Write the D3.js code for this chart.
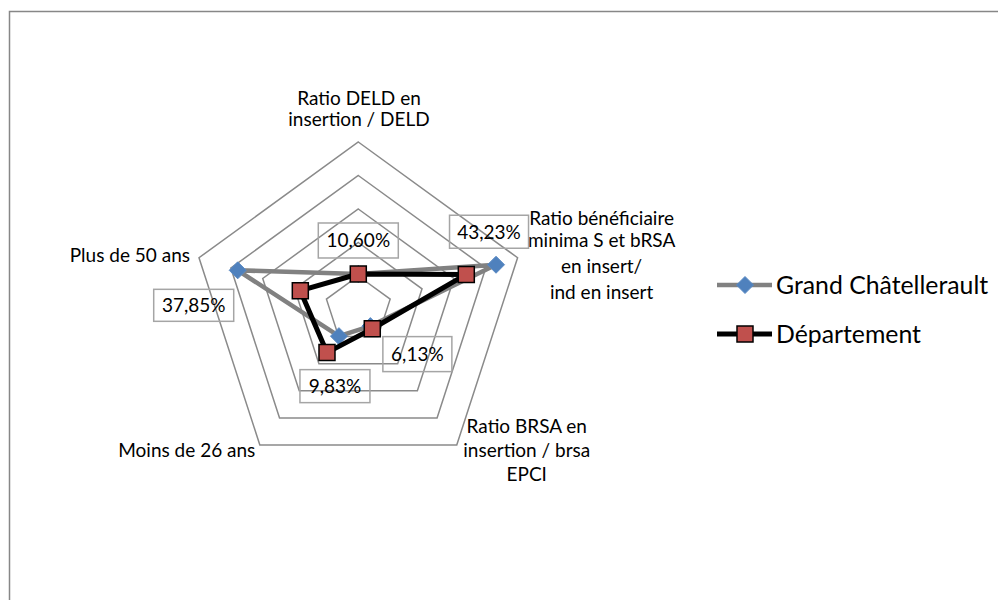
<!DOCTYPE html>
<html>
<head>
<meta charset="utf-8">
<script src="https://cdn.jsdelivr.net/npm/d3@7"></script>
<style>
  body { margin: 0; background: #fff; }
  text { font-family: Lato, "Open Sans", sans-serif; fill: #000; }
</style>
</head>
<body>
<div id="chart"></div>
<script>
var categories = [
  ["Ratio DELD en", "insertion / DELD"],
  ["Ratio bénéficiaire", "minima S et bRSA", "en insert/", "ind en insert"],
  ["Ratio BRSA en", "insertion / brsa", "EPCI"],
  ["Moins de 26 ans"],
  ["Plus de 50 ans"]
];
var seriesNames = ["Grand Châtellerault", "Département"];
var grandChatellerault = [10.60, 43.23, 6.13, 9.83, 37.85];
var departement = [10.6, 33.9, 7.1, 15.9, 18.2];
var dataLabels = ["10,60%", "43,23%", "6,13%", "9,83%", "37,85%"];
var ringValues = [10, 20, 30, 40, 50];

var svgWidth = 998;
var svgHeight = 600;
var cx = 358.3, cy = 309.5, radius = 167.5;

var svg = d3.select("#chart")
  .append("svg")
  .attr("width", svgWidth)
  .attr("height", svgHeight);

// chart area frame, runs off the right and bottom edges
svg.append("rect")
  .attr("x", 9.5).attr("y", 11.5)
  .attr("width", 1000).attr("height", 600)
  .attr("fill", "none")
  .attr("stroke", "#878787")
  .attr("stroke-width", 1.5);

var rScale = d3.scaleLinear().domain([0, 50]).range([0, radius]);
var angle = d3.scaleLinear().domain([0, categories.length]).range([-Math.PI / 2, 1.5 * Math.PI]);

function point(i, v) {
  var a = angle(i), r = rScale(v);
  return [cx + r * Math.cos(a), cy + r * Math.sin(a)];
}

var chartGroup = svg.append("g");

// rings
chartGroup.selectAll(".ring")
  .data(ringValues)
  .enter()
  .append("polygon")
  .attr("class", "ring")
  .attr("points", function(v) {
    return categories.map(function(c, i) { return point(i, v).join(","); }).join(" ");
  })
  .attr("fill", "none")
  .attr("stroke", "#8a8a8a")
  .attr("stroke-width", 1.5);

// category labels: [dx, dy of first baseline from outer vertex, anchor, line heights]
var catLayout = [
  {dx: 0.7, dy: -37, anchor: "middle", lh: [0, 21]},
  {dx: 84, dy: -33, anchor: "middle", lh: [0, 22, 26, 26]},
  {dx: 70, dy: -12, anchor: "middle", lh: [0, 24, 24]},
  {dx: -4.5, dy: 12, anchor: "end", lh: [0]},
  {dx: -9, dy: 4.5, anchor: "end", lh: [0]}
];

categories.forEach(function(lines, i) {
  var p = point(i, 50), L = catLayout[i];
  var t = chartGroup.append("text")
    .attr("text-anchor", L.anchor)
    .style("font-size", "19px");
  var y = p[1] + L.dy;
  lines.forEach(function(s, k) {
    y += L.lh[k];
    t.append("tspan").attr("x", p[0] + L.dx).attr("y", y).text(s);
  });
});

// data label boxes, offsets from the Grand Châtellerault point
var labelLayout = [
  {dx: 0, dy: -33.5, w: 80, h: 35},
  {dx: -7, dy: -33, w: 79, h: 33},
  {dx: 47, dy: 28, w: 69, h: 35},
  {dx: -4, dy: 50, w: 70, h: 33},
  {dx: -44, dy: 35, w: 80, h: 32}
];

grandChatellerault.forEach(function(v, i) {
  var p = point(i, v), L = labelLayout[i];
  var bx = p[0] + L.dx, by = p[1] + L.dy;
  chartGroup.append("rect")
    .attr("x", bx - L.w / 2).attr("y", by - L.h / 2)
    .attr("width", L.w).attr("height", L.h)
    .attr("fill", "none")
    .attr("stroke", "#a5a5a5")
    .attr("stroke-width", 1.5);
  chartGroup.append("text")
    .attr("x", bx).attr("y", by + 7)
    .attr("text-anchor", "middle")
    .style("font-size", "19px")
    .text(dataLabels[i]);
});

var line = d3.line().curve(d3.curveLinearClosed);

var series = [
  {name: seriesNames[0], values: grandChatellerault, stroke: "#818181", width: 4.5, marker: "diamond", fill: "#4f81bd", mstroke: "#5a8ac4"},
  {name: seriesNames[1], values: departement, stroke: "#000", width: 5, marker: "square", fill: "#c0504d", mstroke: "#000"}
];

function markerPath(type) {
  if (type == "diamond") return "M0,-8.5L8.5,0L0,8.5L-8.5,0Z";
  return "M-8,-8H8V8H-8Z";
}

series.forEach(function(s) {
  var pts = s.values.map(function(v, i) { return point(i, v); });
  chartGroup.append("path")
    .attr("d", line(pts))
    .attr("fill", "none")
    .attr("stroke", s.stroke)
    .attr("stroke-width", s.width)
    .attr("stroke-linejoin", "round");
  chartGroup.selectAll(null)
    .data(pts)
    .enter()
    .append("path")
    .attr("transform", d => `translate(${d[0]}, ${d[1]})`)
    .attr("d", markerPath(s.marker))
    .attr("fill", s.fill)
    .attr("stroke", s.mstroke)
    .attr("stroke-width", s.marker == "square" ? 1.5 : 1);
});

// legend
var legend = svg.append("g");
series.forEach(function(s, i) {
  var y = 285 + i * 49;
  legend.append("line")
    .attr("x1", 717).attr("x2", 772)
    .attr("y1", y).attr("y2", y)
    .attr("stroke", s.stroke)
    .attr("stroke-width", s.width);
  legend.append("path")
    .attr("transform", `translate(745, ${y})`)
    .attr("d", markerPath(s.marker))
    .attr("fill", s.fill)
    .attr("stroke", s.mstroke)
    .attr("stroke-width", s.marker == "square" ? 1.5 : 1);
  legend.append("text")
    .attr("x", 776).attr("y", y + 8.5)
    .style("font-size", "24.8px")
    .text(s.name);
});
</script>
</body>
</html>
